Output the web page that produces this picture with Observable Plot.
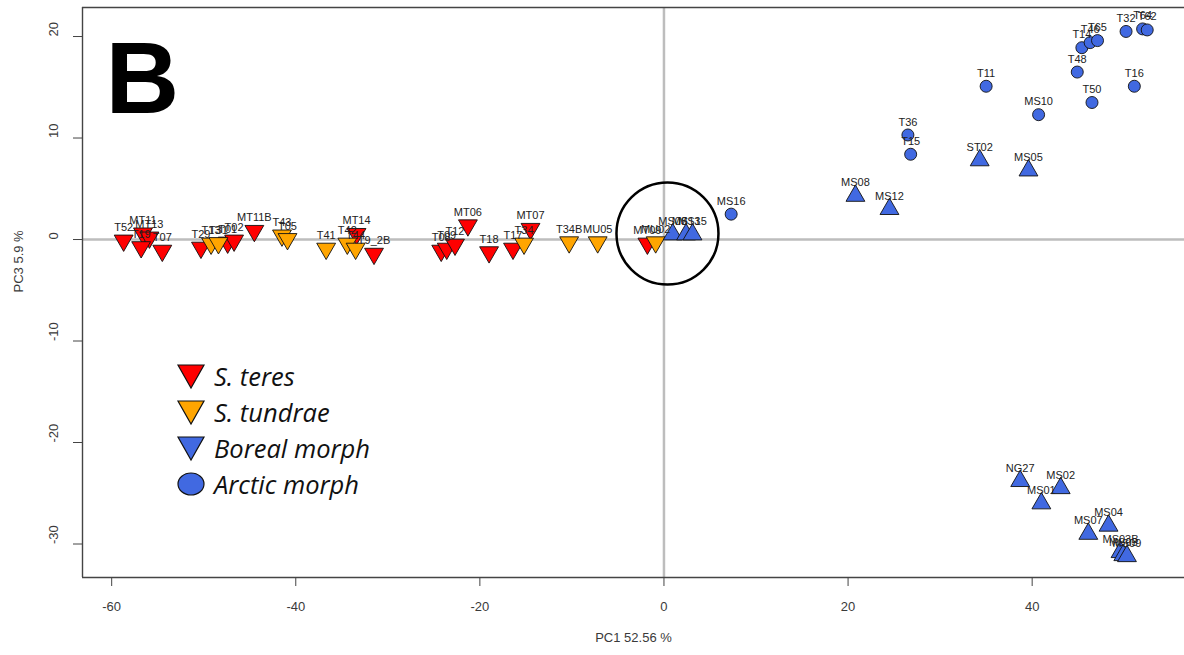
<!DOCTYPE html>
<html>
<head>
<meta charset="utf-8">
<script src="https://cdn.jsdelivr.net/npm/d3@7"></script>
<script src="https://cdn.jsdelivr.net/npm/@observablehq/plot@0.6"></script>
<style>
  html, body { margin: 0; padding: 0; background: white; overflow: hidden; }
  #wrap { position: relative; width: 1184px; height: 655px; }
  #legend { position: absolute; left: 176px; top: 358px; font-family: "Open Sans", sans-serif; font-style: italic; font-size: 25.5px; color: #111; }
  #legend .row { display: flex; align-items: center; height: 36px; }
  #legend svg { margin-right: 8px; }
</style>
</head>
<body>
<div id="wrap"><div id="legend"></div></div>
<script>
// ---- data (PC1, PC3 scores) ----
const teresNames = ["T52","MT11","MT13","T19","T07","T29","T01","T02","MT11B","MT14","T9_2B","T08","T09","T12","MT06","T18","T17","MT07","MT09"];
const teresPC1   = [-58.7,-56.6,-55.9,-56.8,-54.5,-50.3,-47.4,-46.7,-44.5,-33.4,-31.5,-24.2,-23.6,-22.7,-21.3,-19.0,-16.4,-14.5,-1.8];
const teresPC3   = [-0.1,0.6,0.2,-0.75,-1.1,-0.8,-0.3,-0.1,0.85,0.55,-1.4,-1.1,-0.9,-0.5,1.4,-1.25,-0.9,1.05,-0.4];

const tundraeNames = ["T13","T31","T43","T05","T41","T42","T44","T34","T34B","MU05","MU02"];
const tundraePC1   = [-49.2,-48.4,-41.5,-40.9,-36.7,-34.4,-33.5,-15.2,-10.3,-7.2,-0.9];
const tundraePC3   = [-0.4,-0.35,0.4,0.05,-0.9,-0.4,-0.9,-0.4,-0.27,-0.27,-0.27];

const borealNames = ["MS06","MS13","MS15","MS08","MS12","ST02","MS05","NG27","MS02","MS01","MS04","MS07","MS03B","MS03","MS09"];
const borealPC1   = [0.95,2.4,3.1,20.8,24.5,34.3,39.6,38.7,43.1,41.0,48.3,46.1,49.6,49.9,50.3];
const borealPC3   = [0.5,0.5,0.5,4.3,3.0,7.8,6.8,-23.8,-24.5,-26.0,-28.2,-29.0,-30.8,-31.1,-31.2];

const arcticNames = ["MS16","T36","T15","T11","MS10","T48","T14","T46","T65","T50","T16","T32","T64","T62"];
const arcticPC1   = [7.3,26.5,26.8,35.0,40.7,44.9,45.4,46.3,47.1,46.5,51.1,50.2,52.0,52.5];
const arcticPC3   = [2.5,10.3,8.4,15.1,12.3,16.5,18.9,19.4,19.6,13.5,15.1,20.5,20.75,20.65];

const legendLabels = ["S. teres","S. tundrae","Boreal morph","Arctic morph"];
const legendColors = ["#ff0000","#ffa500","#4169e1","#4169e1"];
const legendShapes = ["down","down","down","circle"];

const xTicks = [-60,-40,-20,0,20,40];
const yTicks = [-30,-20,-10,0,10,20];
const xDomain = [-63.17, 56.55];
const yDomain = [-33.3, 22.86];
const xTitle = "PC1 52.56 %";
const yTitle = "PC3 5.9 %";
const panelLetter = "B";
const highlightPC1 = [0.38];
const highlightPC3 = [0.59];

// ---- helpers ----
const toRows = (names, xs, ys) => names.map((n, i) => ({name: n, pc1: xs[i], pc3: ys[i]}));
const teres = toRows(teresNames, teresPC1, teresPC3);
const tundrae = toRows(tundraeNames, tundraePC1, tundraePC3);
const boreal = toRows(borealNames, borealPC1, borealPC3);
const arctic = toRows(arcticNames, arcticPC1, arcticPC3);
const all = [...teres, ...tundrae, ...boreal, ...arctic];
const highlight = highlightPC1.map((x, i) => ({pc1: x, pc3: highlightPC3[i]}));

const triangleDown = {
  draw(context, size) {
    const y = Math.sqrt(size / (Math.sqrt(3) * 3));
    context.moveTo(0, y * 2);
    context.lineTo(-Math.sqrt(3) * y, -y);
    context.lineTo(Math.sqrt(3) * y, -y);
    context.closePath();
  }
};

const dotOpts = (fill, symbol, r) => ({x: "pc1", y: "pc3", fill, symbol, r, stroke: "#111", strokeWidth: 0.9});
const fmt = d => String(d);
const axisColor = "#3a3a3a";

const chart = Plot.plot({
  width: 1184,
  height: 655,
  marginLeft: 82,
  marginRight: 0,
  marginTop: 7,
  marginBottom: 78,
  x: {domain: xDomain},
  y: {domain: yDomain},
  style: {fontFamily: "'Liberation Sans', Arial, sans-serif", background: "white", color: axisColor},
  marks: [
    Plot.ruleY([0], {stroke: "#bdbdbd", strokeWidth: 2.5}),
    Plot.ruleX([0], {stroke: "#bdbdbd", strokeWidth: 2.5}),
    Plot.ruleY([yDomain[0], yDomain[1]], {stroke: "#444", strokeWidth: 1.4}),
    Plot.ruleX([xDomain[0]], {stroke: "#444", strokeWidth: 1.4}),
    Plot.axisX({ticks: xTicks, tickSize: 9, tickPadding: 15, tickFormat: fmt, fontSize: 13, label: null, stroke: "#444"}),
    Plot.axisY({ticks: yTicks, tickSize: 9, tickFormat: () => "", label: null, stroke: "#444"}),
    Plot.text(yTicks, {frameAnchor: "left", y: d => d, text: fmt, rotate: -90, dx: -29, fontSize: 13, fill: axisColor}),
    Plot.text([xTitle], {frameAnchor: "bottom", dy: 64, fontSize: 13, fill: axisColor}),
    Plot.text([yTitle], {frameAnchor: "left", dx: -64, rotate: -90, fontSize: 13, fill: axisColor}),
    Plot.text([panelLetter], {frameAnchor: "top-left", textAnchor: "start", lineAnchor: "top", dx: 23, dy: 33, fontSize: 102, fontWeight: "bold", fill: "black"}),
    Plot.dot(teres, dotOpts("#ff0000", triangleDown, 7)),
    Plot.dot(tundrae, dotOpts("#ffa500", triangleDown, 7)),
    Plot.dot(boreal, dotOpts("#4169e1", "triangle", 7)),
    Plot.dot(arctic, dotOpts("#4169e1", "circle", 6)),
    Plot.text(all, {x: "pc1", y: "pc3", text: "name", dy: -13, fontSize: 11, fill: "#222"}),
    Plot.dot(highlight, {x: "pc1", y: "pc3", r: 51, stroke: "black", strokeWidth: 2.5, fill: "none"})
  ]
});
document.getElementById("wrap").prepend(chart);

// ---- legend overlay ----
const legend = d3.select("#legend");
legendLabels.forEach((lab, i) => {
  const row = legend.append("div").attr("class", "row");
  const svg = row.append("svg").attr("width", 30).attr("height", 28);
  if (legendShapes[i] === "circle") {
    svg.append("ellipse").attr("cx", 15).attr("cy", 14).attr("rx", 13).attr("ry", 11)
      .attr("fill", legendColors[i]).attr("stroke", "#111").attr("stroke-width", 1.2);
  } else {
    svg.append("path").attr("d", "M2,3 L28,3 L15,26 Z")
      .attr("fill", legendColors[i]).attr("stroke", "#111").attr("stroke-width", 1.2);
  }
  row.append("span").text(lab);
});
</script>
</body>
</html>
